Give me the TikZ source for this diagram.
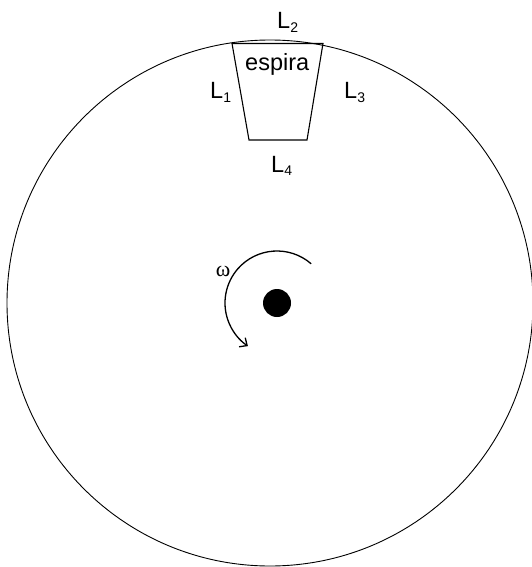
\documentclass[tikz,border=0pt]{standalone}
\usepackage{fontspec}
\setmainfont{Liberation Sans}
\newfontfamily\omegafont{Liberation Serif}
\usetikzlibrary{arrows.meta}
\newcommand\lsub[1]{\raisebox{-0.16em}{\fontsize{14}{14}\selectfont #1}}
\begin{document}
\begin{tikzpicture}[x=1pt,y=-1pt,
  lbl/.style={font=\fontsize{23.5}{27}\selectfont, inner sep=0pt, anchor=base west},
  thin line/.style={line width=0.9pt}]
\useasboundingbox (0,0) rectangle (532,567);
\clip (0,0) rectangle (532,567);
\fill[white] (0,0) rectangle (532,567);
% disk
\node[circle, draw, thin line, minimum size=526pt, inner sep=0pt] (disk) at (270,303) {};
% loop (espira)
\coordinate (tl) at (232,43.5);
\coordinate (tr) at (323,43.5);
\coordinate (br) at (307,140);
\coordinate (bl) at (249,140);
\draw[line width=1.1pt] (tl) -- (tr) -- (br) -- (bl) -- cycle;
\node[lbl] (esp) at (245,71) {espira};
\node[lbl] (L1) at (210,99) {L\lsub{1}};
\node[lbl] (L2) at (277,29) {L\lsub{2}};
\node[lbl] (L3) at (344,99) {L\lsub{3}};
\node[lbl] (L4) at (271,172) {L\lsub{4}};
% axis
\node[circle, fill=black, minimum size=28pt, inner sep=0pt] (axis) at (277,303) {};
% rotation arrow
\draw[line width=1.3pt, -{Straight Barb[length=6pt,width=11pt]}]
  ([shift={(-49:52)}]axis.center) arc[start angle=-49, end angle=-236, radius=52];
\node[font=\omegafont\fontsize{22}{24}\selectfont, inner sep=0pt] (omega) at (223,271) {ω};
\end{tikzpicture}
\end{document}
